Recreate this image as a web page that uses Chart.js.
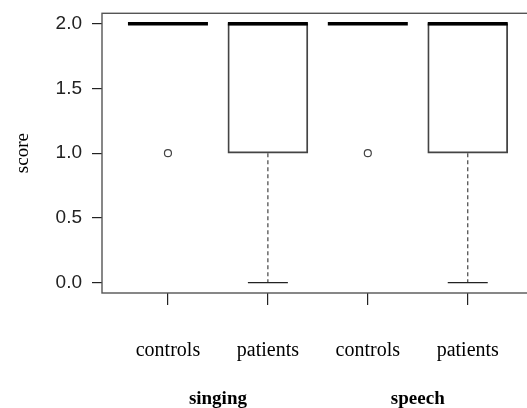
<!DOCTYPE html>
<html>
<head>
<meta charset="utf-8">
<script src="https://cdn.jsdelivr.net/npm/chart.js@4"></script>
<style>
html,body{margin:0;padding:0;background:#fff;overflow:hidden;}
canvas{display:block;}
</style>
</head>
<body>
<canvas id="c" width="540" height="408"></canvas>
<script>
// ---- data ----
const categories = ['controls', 'patients', 'controls', 'patients'];
const groups = ['singing', 'speech'];
const yTicks = [0, 0.5, 1.0, 1.5, 2.0];
const whiskerLow = [2, 0, 2, 0];
const q1 = [2, 1, 2, 1];
const median = [2, 2, 2, 2];
const q3 = [2, 2, 2, 2];
const whiskerHigh = [2, 2, 2, 2];
const outliers = [[1], [], [1], []];

const positions = categories.map((_, i) => i + 1);
const groupPositions = groups.map((_, g) => 2 * g + 1.5);

const boxData = positions.map((x, i) => ({x: x, y: [q1[i], q3[i]]}));
const outlierData = [];
outliers.forEach((arr, i) => arr.forEach(v => outlierData.push({x: positions[i], y: v})));

const BOX_W = 80;

const boxPlugin = {
  id: 'boxExtras',
  afterDatasetsDraw(chart) {
    const ctx = chart.ctx;
    const xs = chart.scales.x, ys = chart.scales.y;
    ctx.save();
    positions.forEach((p, i) => {
      const cx = xs.getPixelForValue(p);
      ctx.strokeStyle = '#444';
      ctx.lineWidth = 1.2;
      ctx.setLineDash([4, 3]);
      if (whiskerLow[i] < q1[i]) {
        ctx.beginPath();
        ctx.moveTo(cx, ys.getPixelForValue(q1[i]));
        ctx.lineTo(cx, ys.getPixelForValue(whiskerLow[i]));
        ctx.stroke();
      }
      if (whiskerHigh[i] > q3[i]) {
        ctx.beginPath();
        ctx.moveTo(cx, ys.getPixelForValue(q3[i]));
        ctx.lineTo(cx, ys.getPixelForValue(whiskerHigh[i]));
        ctx.stroke();
      }
      ctx.setLineDash([]);
      ctx.strokeStyle = '#222';
      ctx.lineWidth = 1.3;
      [whiskerLow[i], whiskerHigh[i]].forEach(v => {
        const y = ys.getPixelForValue(v);
        ctx.beginPath();
        ctx.moveTo(cx - BOX_W / 4, y);
        ctx.lineTo(cx + BOX_W / 4, y);
        ctx.stroke();
      });
      ctx.strokeStyle = '#000';
      ctx.lineWidth = 3.5;
      ctx.lineCap = 'butt';
      const my = ys.getPixelForValue(median[i]);
      ctx.beginPath();
      ctx.moveTo(cx - BOX_W / 2, my);
      ctx.lineTo(cx + BOX_W / 2, my);
      ctx.stroke();
    });
    const a = chart.chartArea;
    ctx.strokeStyle = '#555';
    ctx.lineWidth = 1.4;
    ctx.strokeRect(a.left, a.top, a.right - a.left, a.bottom - a.top);
    ctx.restore();
  }
};

new Chart(document.getElementById('c'), {
  type: 'bar',
  data: {
    datasets: [
      {
        type: 'bar',
        data: boxData,
        backgroundColor: 'rgba(255,255,255,0)',
        borderColor: '#444',
        borderWidth: 1.2,
        borderSkipped: false,
        barThickness: BOX_W,
        order: 2
      },
      {
        type: 'scatter',
        data: outlierData,
        pointRadius: 3.5,
        pointBorderWidth: 1.2,
        pointBorderColor: '#444',
        pointBackgroundColor: '#fff',
        order: 1
      }
    ]
  },
  options: {
    responsive: false,
    animation: false,
    devicePixelRatio: 1,
    layout: {padding: {top: 13.3, right: 6.3, left: 0, bottom: 0}},
    plugins: {legend: {display: false}, tooltip: {enabled: false}},
    scales: {
      x: {
        type: 'linear',
        position: 'bottom',
        min: 0.34, max: 4.66,
        offset: false,
        weight: 0,
        afterBuildTicks: ax => { ax.ticks = positions.map(v => ({value: v})); },
        afterFit: ax => { ax.height = 75; ax.paddingLeft = 0; ax.paddingRight = 0; },
        grid: {offset: false, drawOnChartArea: false, drawTicks: true, tickLength: 12, color: '#222', lineWidth: 1.2},
        border: {display: false},
        ticks: {
          autoSkip: false, maxRotation: 0,
          padding: 34,
          color: '#000',
          font: {family: 'Liberation Serif', size: 20},
          callback: v => categories[Math.round(v) - 1]
        }
      },
      x2: {
        type: 'linear',
        position: 'bottom',
        min: 0.34, max: 4.66,
        offset: false,
        weight: 1,
        afterBuildTicks: ax => { ax.ticks = groupPositions.map(v => ({value: v})); },
        afterFit: ax => { ax.height = 40; ax.paddingLeft = 0; ax.paddingRight = 0; },
        grid: {offset: false, display: false, drawTicks: false},
        border: {display: false},
        ticks: {
          autoSkip: false, maxRotation: 0,
          padding: 20,
          color: '#000',
          font: {family: 'Liberation Serif', size: 19, weight: 'bold'},
          callback: (v, i) => groups[i]
        }
      },
      y: {
        type: 'linear',
        min: -0.08, max: 2.08,
        afterBuildTicks: ax => { ax.ticks = yTicks.map(v => ({value: v})); },
        afterFit: ax => { ax.width = 102; ax.paddingTop = 0; ax.paddingBottom = 0; },
        grid: {drawOnChartArea: false, drawTicks: true, tickLength: 10, color: '#222', lineWidth: 1.2},
        border: {display: false},
        title: {
          display: true, text: 'score', color: '#000',
          font: {family: 'Liberation Serif', size: 19},
          padding: {top: 12, bottom: 0}
        },
        ticks: {
          padding: 10,
          color: '#222',
          font: {family: 'Liberation Sans', size: 19},
          callback: v => v.toFixed(1)
        }
      }
    }
  },
  plugins: [boxPlugin]
});
</script>
</body>
</html>
